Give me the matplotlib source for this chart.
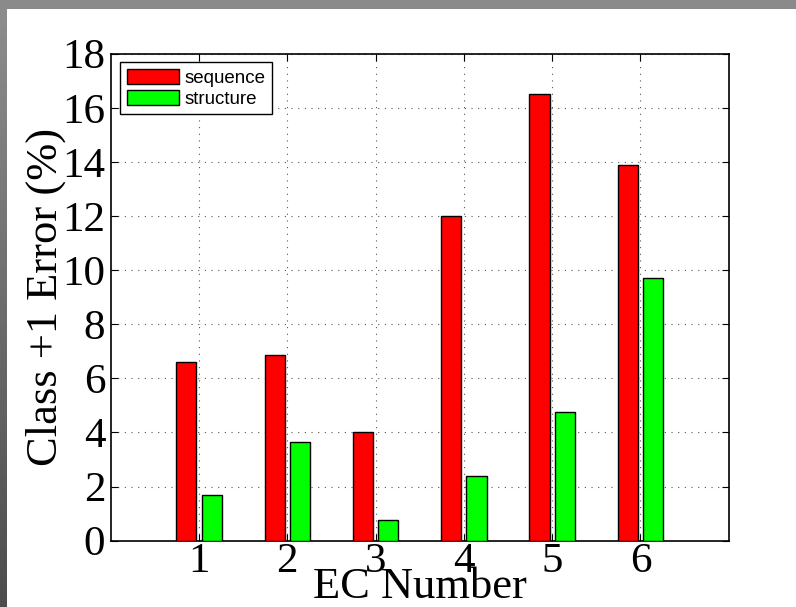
import numpy as np
import matplotlib
matplotlib.use("Agg")
import matplotlib.pyplot as plt

categories = [1, 2, 3, 4, 5, 6]
sequence = [6.6, 6.85, 4.0, 12.0, 16.5, 13.9]
structure = [1.7, 3.65, 0.75, 2.4, 4.75, 9.7]
series_labels = ["sequence", "structure"]
yticks = [0, 2, 4, 6, 8, 10, 12, 14, 16, 18]

W, H = 796, 607
fig = plt.figure(figsize=(W / 100, H / 100), dpi=100)
fig.patch.set_facecolor("white")

# gray frame (top band + left gradient band)
top_ax = fig.add_axes([0, 1 - 9 / H, 1, 9 / H])
top_ax.set_axis_off()
top_ax.add_patch(plt.Rectangle((0, 0), 1, 1, color="#8a8a8a", transform=top_ax.transAxes))
left_ax = fig.add_axes([0, 0, 7 / W, 1 - 9 / H])
left_ax.set_axis_off()
grad = np.linspace(0.55, 0.30, 256).reshape(-1, 1)
left_ax.imshow(grad, aspect="auto", cmap="gray", vmin=0, vmax=1, extent=[0, 1, 0, 1])

serif = ["Liberation Serif", "DejaVu Serif"]
ax = fig.add_axes([110.7 / W, 1 - 540.7 / H, (728.7 - 110.7) / W, (540.7 - 53.7) / H])

x = np.array(categories, dtype=float)
w = 0.229
off = 0.143
ax.bar(x - off, sequence, width=w, color="#ff0000", edgecolor="black", linewidth=1.0,
       label=series_labels[0], zorder=3)
ax.bar(x + off, structure, width=w, color="#00ff00", edgecolor="black", linewidth=1.0,
       label=series_labels[1], zorder=3)

ax.set_xlim(0, 7)
ax.set_ylim(0, 18)
ax.set_xticks(categories)
ax.set_yticks(yticks)
ax.grid(True, linestyle=(0, (1, 5)), color="#555555", linewidth=0.8, zorder=0)
ax.tick_params(direction="in", top=True, right=True, length=5, width=0.8, labelsize=31)
ax.tick_params(axis="x", pad=1)
ax.tick_params(axis="y", pad=4)
for lab in ax.get_xticklabels() + ax.get_yticklabels():
    lab.set_fontfamily(serif)
for s in ax.spines.values():
    s.set_linewidth(1.2)

ax.set_xlabel("EC Number", fontsize=32, fontfamily=serif, labelpad=-10)
ax.set_ylabel("Class +1 Error (%)", fontsize=32, fontfamily=serif, labelpad=-3)

leg = ax.legend(loc="upper left", bbox_to_anchor=(0.015, 0.982), borderaxespad=0,
                prop={"family": ["Liberation Sans", "DejaVu Sans"], "size": 13.5},
                handlelength=2.8, handleheight=0.85, fancybox=False, framealpha=1,
                edgecolor="black", labelspacing=0.15, borderpad=0.35, handletextpad=0.3)
leg.get_frame().set_linewidth(1.0)

fig.savefig("out.png", dpi=100, facecolor="white")
